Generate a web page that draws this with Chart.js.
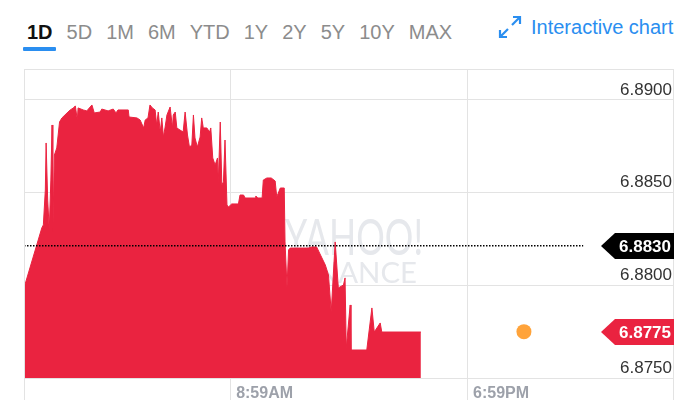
<!DOCTYPE html>
<html>
<head>
<meta charset="utf-8">
<script src="https://cdn.jsdelivr.net/npm/chart.js@4.4.0/dist/chart.umd.min.js"></script>
<style>
  html, body { margin: 0; padding: 0; background: #fff; }
  #wrap { position: relative; width: 700px; height: 414px; overflow: hidden;
    font-family: "Liberation Sans", Arial, sans-serif; }
  #chart { position: absolute; left: 0; top: 0; }
  .tabs { position: absolute; left: 27px; top: 20px; display: flex; gap: 14px;
    font-size: 20px; line-height: 24px; color: #8c8c8c; white-space: nowrap; }
  .tabs .on { color: #111; font-weight: bold; }
  .uline { position: absolute; left: 23px; top: 47px; width: 33px; height: 4px;
    background: #2a8ef0; border-radius: 1px; }
  .ic { position: absolute; left: 497px; top: 15px; }
  .link { position: absolute; left: 531px; top: 15px; font-size: 20px; line-height: 24px;
    color: #2a8ef0; white-space: nowrap; }
</style>
</head>
<body>
<div id="wrap">
  <div class="tabs">
    <span class="on">1D</span><span>5D</span><span>1M</span><span>6M</span><span>YTD</span>
    <span>1Y</span><span>2Y</span><span>5Y</span><span>10Y</span><span>MAX</span>
  </div>
  <div class="uline"></div>
  <svg class="ic" width="26" height="24" viewBox="0 0 26 24" fill="none" stroke="#2a8ef0" stroke-width="2.2">
    <path d="M15 10 L23 2 M16 2 H23 V9" />
    <path d="M11 14 L3 22 M3 15 V22 H10" />
  </svg>
  <div class="link">Interactive chart</div>
  <canvas id="chart" width="700" height="414"></canvas>
</div>
<script>
// minutes after midnight
const times = [17, 62, 66, 71, 73, 77, 81, 85, 88, 90, 94, 100, 107, 113, 126, 134, 142, 147, 152, 154,
  167, 176, 189, 195, 210, 214, 230, 243, 250, 255, 281, 283, 303, 311, 320, 324, 331, 336, 342, 349,
  353, 357, 362, 366, 370, 374, 379, 387, 393, 395, 400, 404, 412, 420, 425, 431, 436, 442, 446, 450,
  456, 463, 467, 471, 480, 487, 490, 495, 501, 507, 509, 514, 518, 522, 526, 531, 535, 543, 560, 564,
  573, 577, 602, 604, 609, 620, 623, 632, 643, 653, 657, 661, 666, 676, 678, 683, 687, 691, 737, 746,
  758, 780, 788, 795, 805, 813, 826, 830, 833, 843, 845, 885, 898, 904, 919, 923, 1022];
const prices = [6.87986, 6.88309, 6.88326, 6.88514, 6.88768, 6.88460, 6.88299, 6.88568, 6.88865, 6.88288,
  6.88703, 6.88741, 6.88881, 6.88903, 6.88930, 6.88946, 6.88957, 6.88968, 6.88892, 6.88957,
  6.88946, 6.88941, 6.88973, 6.88930, 6.88935, 6.88951, 6.88941, 6.88951, 6.88930, 6.88946,
  6.88946, 6.88908, 6.88903, 6.88892, 6.88849, 6.88892, 6.88903, 6.88973, 6.88957, 6.88946,
  6.88865, 6.88935, 6.88827, 6.88903, 6.88800, 6.88849, 6.88919, 6.88962, 6.88849, 6.88919,
  6.88935, 6.88849, 6.88838, 6.88827, 6.88935, 6.88811, 6.88746, 6.88757, 6.88919, 6.88795,
  6.88746, 6.88800, 6.88903, 6.88849, 6.88849, 6.88827, 6.88849, 6.88687, 6.88649, 6.88687,
  6.88558, 6.88881, 6.88541, 6.88558, 6.88784, 6.88433, 6.88423, 6.88439, 6.88439, 6.88487,
  6.88487, 6.88471, 6.88471, 6.88482, 6.88471, 6.88471, 6.88568, 6.88579, 6.88579, 6.88563,
  6.88477, 6.88498, 6.88525, 6.88525, 6.88234, 6.87991, 6.88191, 6.88201, 6.88201, 6.88207,
  6.88207, 6.88110, 6.88056, 6.87856, 6.88234, 6.87986, 6.88002, 6.88040, 6.87662, 6.87894,
  6.87651, 6.87651, 6.87878, 6.87748, 6.87797, 6.87748, 6.87748];

const xMin = 17, xMax = 1663;
const yMin = 6.875, yMax = 6.89167;
const yTicks = [6.875, 6.880, 6.885, 6.890];
const xTicks = [539, 1139];
const xTickLabels = ["8:59AM", "6:59PM"];

const prevCloseLevel = 6.88214, prevCloseText = "6.8830", prevCloseEnd = 1433;
const lastPrice = 6.8775, lastText = "6.8775";
const postTime = 1283, postPrice = 6.8775;

const RED = "#ea2340", GRID = "#e3e3e3";

const watermark = {
  id: "watermark",
  beforeDatasetsDraw(chart) {
    const { ctx } = chart;
    const cx = 354;
    ctx.save();
    ctx.fillStyle = "#e6e8ec";
    ctx.textAlign = "center";
    ctx.textBaseline = "alphabetic";
    const line = (txt, font, w, base) => {
      ctx.font = font;
      const m = ctx.measureText(txt).width;
      ctx.save();
      ctx.translate(cx, base);
      ctx.scale(w / m, 1);
      ctx.fillText(txt, 0, 0);
      ctx.restore();
    };
    line("YAHOO!", "400 50px Lato", 138, 255);
    line("FINANCE", "400 28px Lato", 126, 283);
    ctx.restore();
  },
};

const frame = {
  id: "frame",
  afterDraw(chart) {
    const { ctx, chartArea: a, scales: { y } } = chart;
    ctx.save();
    ctx.strokeStyle = GRID;
    ctx.lineWidth = 1;
    ctx.beginPath();
    ctx.moveTo(a.left, a.top + 0.5); ctx.lineTo(a.right, a.top + 0.5);
    ctx.moveTo(a.left + 0.5, a.top); ctx.lineTo(a.left + 0.5, a.bottom + 22);
    ctx.moveTo(a.right - 0.5, a.top); ctx.lineTo(a.right - 0.5, a.bottom + 22);
    ctx.stroke();
    // price flags
    [[prevCloseLevel, prevCloseText, "#000"], [lastPrice, lastText, RED]].forEach(([v, t, c]) => {
      const py = Math.round(y.getPixelForValue(v));
      ctx.fillStyle = c;
      ctx.beginPath();
      ctx.moveTo(601, py);
      ctx.lineTo(615, py - 13);
      ctx.lineTo(674, py - 13);
      ctx.lineTo(674, py + 13);
      ctx.lineTo(615, py + 13);
      ctx.closePath();
      ctx.fill();
      ctx.fillStyle = "#fff";
      ctx.font = "bold 17px 'Liberation Sans', Arial, sans-serif";
      ctx.textAlign = "right";
      ctx.textBaseline = "middle";
      ctx.fillText(t, 671, py + 1);
    });
    ctx.restore();
  },
};

new Chart(document.getElementById("chart"), {
  type: "line",
  data: {
    datasets: [
      { data: times.map((t, i) => ({ x: t, y: prices[i] })), fill: "start", backgroundColor: RED,
        borderColor: RED, borderWidth: 1, pointRadius: 0, tension: 0, order: 3 },
      { data: [{ x: xMin, y: prevCloseLevel }, { x: prevCloseEnd, y: prevCloseLevel }], borderColor: "#000",
        borderWidth: 1.5, borderDash: [1.5, 1.5], pointRadius: 0, fill: false, order: 1 },
      { data: [{ x: postTime, y: postPrice }], showLine: false, pointRadius: 7.5, pointBorderWidth: 0,
        pointBackgroundColor: "#ffa33a", order: 0 },
    ],
  },
  options: {
    responsive: false, animation: false,
    layout: { padding: { left: 24, right: 26, top: 69, bottom: 0 } },
    plugins: { legend: { display: false }, tooltip: { enabled: false } },
    scales: {
      x: {
        type: "linear", min: xMin, max: xMax,
        afterBuildTicks: (s) => { s.ticks = xTicks.map((v) => ({ value: v })); },
        afterFit: (s) => { s.height = 36; },
        grid: { color: GRID, tickLength: 22 },
        border: { display: false },
        ticks: { align: "start", labelOffset: 6, padding: -16, autoSkip: false, maxRotation: 0,
          color: "#9da1aa", font: { family: "'Liberation Sans', Arial, sans-serif", size: 16, weight: "bold" },
          callback: (v, i) => xTickLabels[i] },
      },
      y: {
        position: "right", min: yMin, max: yMax,
        afterBuildTicks: (s) => { s.ticks = yTicks.map((v) => ({ value: v })); },
        afterFit: (s) => { s.width = 0; },
        grid: { color: GRID, drawTicks: false },
        border: { display: false },
        ticks: { mirror: true, padding: -2, labelOffset: -10, color: "#333",
          font: { family: "'Liberation Sans', Arial, sans-serif", size: 17 },
          callback: (v) => v.toFixed(4) },
      },
    },
  },
  plugins: [watermark, frame],
});
</script>
</body>
</html>
